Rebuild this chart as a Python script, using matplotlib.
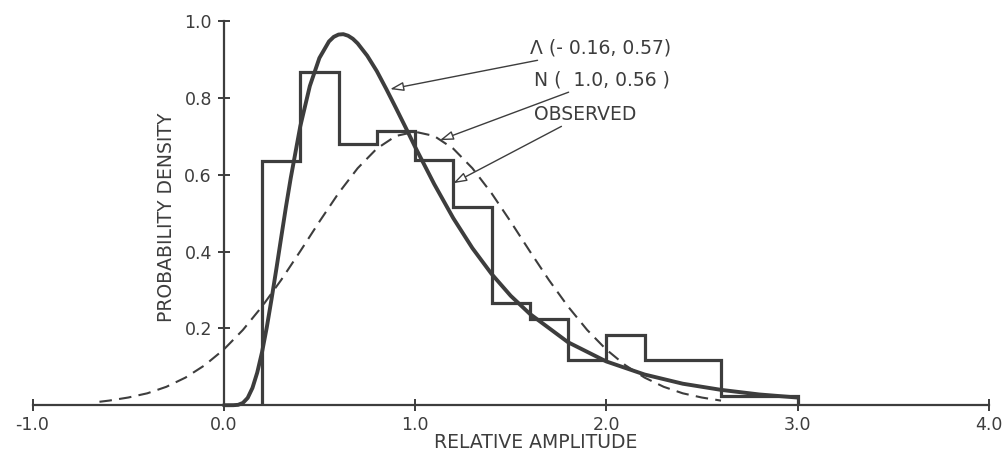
import matplotlib
matplotlib.use("Agg")
from matplotlib import pyplot as plt

# observed histogram (bin edges and densities)
bin_edges = [0.2, 0.4, 0.6, 0.8, 1.0, 1.2, 1.4, 1.6, 1.8, 2.0, 2.2, 2.4, 2.6, 3.0]
observed = [0.635, 0.868, 0.681, 0.714, 0.638, 0.515, 0.267, 0.224, 0.117, 0.183, 0.117, 0.117, 0.025]

# lognormal fit curve
logn_x = [0.0, 0.05, 0.075, 0.1, 0.125, 0.15, 0.175, 0.2, 0.225, 0.25, 0.275, 0.3, 0.325,
          0.35, 0.4, 0.45, 0.5, 0.55, 0.575, 0.6, 0.625, 0.65, 0.675, 0.7, 0.75, 0.8,
          0.85, 0.9, 0.95, 1.0, 1.1, 1.2, 1.3, 1.4, 1.5, 1.6, 1.8, 2.0, 2.2, 2.4, 2.6,
          2.8, 3.0]
logn_y = [0.0, 0.0001, 0.001, 0.006, 0.019, 0.045, 0.085, 0.138, 0.203, 0.277, 0.355,
          0.436, 0.516, 0.591, 0.726, 0.831, 0.904, 0.947, 0.959, 0.965, 0.966, 0.962,
          0.954, 0.942, 0.910, 0.870, 0.823, 0.774, 0.724, 0.673, 0.576, 0.487, 0.409,
          0.342, 0.285, 0.238, 0.164, 0.114, 0.080, 0.056, 0.040, 0.028, 0.020]

# normal fit curve
norm_x = [-0.65, -0.6, -0.5, -0.4, -0.3, -0.2, -0.1, 0.0, 0.1, 0.2, 0.3, 0.4, 0.5, 0.6,
          0.7, 0.8, 0.9, 1.0, 1.1, 1.2, 1.3, 1.4, 1.5, 1.6, 1.7, 1.8, 1.9, 2.0, 2.1,
          2.2, 2.3, 2.4, 2.5, 2.6]
norm_y = [0.009, 0.012, 0.020, 0.031, 0.048, 0.072, 0.104, 0.145, 0.196, 0.257, 0.326,
          0.401, 0.478, 0.552, 0.617, 0.668, 0.701, 0.712, 0.701, 0.668, 0.617, 0.552,
          0.478, 0.401, 0.326, 0.257, 0.196, 0.145, 0.104, 0.072, 0.048, 0.031, 0.020,
          0.012]

x_ticks = [-1.0, 0.0, 1.0, 2.0, 3.0, 4.0]
y_ticks = [0.2, 0.4, 0.6, 0.8, 1.0]

ink = "#3d3d3d"
plt.rcParams["font.family"] = "DejaVu Sans"

fig = plt.figure(figsize=(10.06, 4.59), dpi=100)
ax = fig.add_axes([0, 0, 1, 1])
ax.set_xlim(-1.17, 4.09)
ax.set_ylim(-0.14, 1.055)

ax.stairs(observed, bin_edges, baseline=0, fill=False, color=ink, lw=2.3)
ax.plot(logn_x, logn_y, color=ink, lw=2.8, solid_capstyle="round")
ax.plot(norm_x, norm_y, color=ink, lw=1.5, dashes=(6, 3.5))

# axes through the origin
for side in ["top", "right"]:
    ax.spines[side].set_visible(False)
ax.spines["left"].set_position(("data", 0))
ax.spines["bottom"].set_position(("data", 0))
ax.spines["left"].set_bounds(0, 1.0)
ax.spines["bottom"].set_bounds(-1.0, 4.0)
for side in ["left", "bottom"]:
    ax.spines[side].set_color(ink)
    ax.spines[side].set_linewidth(1.6)

ax.set_xticks(x_ticks)
ax.set_xticklabels(["%.1f" % v for v in x_ticks])
ax.set_yticks(y_ticks)
ax.set_yticklabels(["%.1f" % v for v in y_ticks])
ax.tick_params(axis="both", direction="inout", length=9, width=1.4, color=ink,
               labelcolor=ink, labelsize=12.5)
ax.tick_params(axis="x", pad=3)
ax.tick_params(axis="y", pad=4)

ax.text(-0.30, 0.49, "PROBABILITY DENSITY", rotation=90, ha="center", va="center",
        color=ink, fontsize=13.5)
ax.text(1.63, -0.097, "RELATIVE AMPLITUDE", ha="center", va="center",
        color=ink, fontsize=13.5)

# labels with arrows
arrow = dict(arrowstyle="-|>,head_length=0.6,head_width=0.2", color=ink, lw=1.0,
             shrinkA=0, shrinkB=0, fc="white")
ax.annotate("Λ (- 0.16, 0.57)", xy=(0.87, 0.823), xytext=(1.60, 0.93),
            va="center", ha="left", color=ink, fontsize=13.5, arrowprops=arrow)
ax.annotate("N (  1.0, 0.56 )", xy=(1.13, 0.69), xytext=(1.62, 0.847),
            va="center", ha="left", color=ink, fontsize=13.5, arrowprops=arrow)
ax.annotate("OBSERVED", xy=(1.20, 0.578), xytext=(1.62, 0.758),
            va="center", ha="left", color=ink, fontsize=13.5, arrowprops=arrow)

fig.savefig("out.png", dpi=100)
